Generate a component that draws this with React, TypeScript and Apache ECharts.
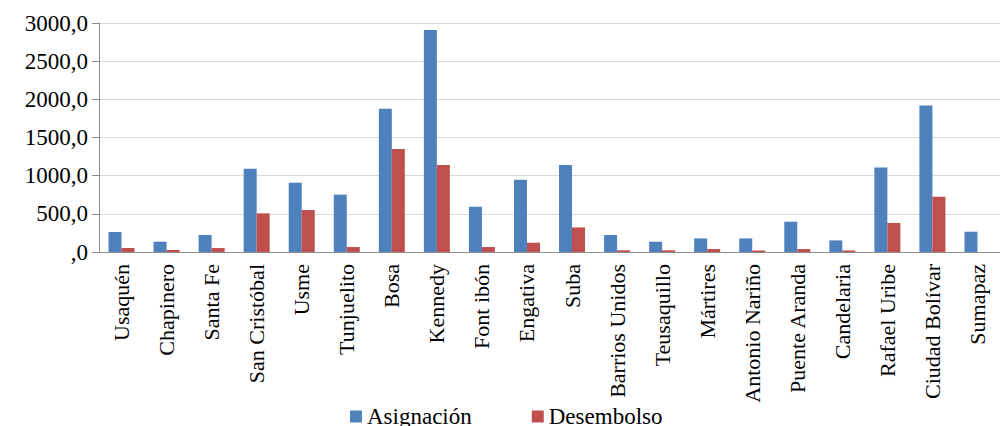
import React, { useEffect, useRef } from "react";
import * as echarts from "echarts";

const categories = [
  "Usaquén", "Chapinero", "Santa Fe", "San Cristóbal", "Usme", "Tunjuelito", "Bosa",
  "Kennedy", "Font ibón", "Engativa", "Suba", "Barrios Unidos", "Teusaquillo", "Mártires",
  "Antonio Nariño", "Puente Aranda", "Candelaria", "Rafael Uribe", "Ciudad Bolívar", "Sumapaz",
];
const asignacion = [262, 135, 223, 1091, 908, 751, 1877, 2908, 593, 947, 1140, 223, 135, 178, 178, 397, 152, 1108, 1920, 266];
const desembolso = [52, 26, 52, 506, 550, 65, 1349, 1140, 65, 122, 322, 22, 22, 39, 20, 39, 20, 380, 724, 0];
const seriesNames = ["Asignación", "Desembolso"];
const yTicks = { min: 0, max: 3000, interval: 500 };

const FONT = "Liberation Serif";

export default function App() {
  const ref = useRef<HTMLDivElement>(null);
  useEffect(() => {
    document.body.style.margin = "0";
    const chart = echarts.init(ref.current!, null, { renderer: "svg" });
    chart.setOption({
      animation: false,
      backgroundColor: "#ffffff",
      grid: { left: 99, top: 23, width: 912, height: 229, containLabel: false },
      legend: {
        data: seriesNames,
        left: 345,
        top: 400,
        icon: "rect",
        itemWidth: 12,
        itemHeight: 12,
        itemGap: 60,
        textStyle: { fontFamily: FONT, fontSize: 23, color: "#000" },
      },
      xAxis: {
        type: "category",
        data: categories,
        axisLine: { show: true, lineStyle: { color: "#8c8c8c", width: 1 } },
        axisTick: { show: false },
        axisLabel: {
          rotate: 90,
          interval: 0,
          margin: 12,
          fontFamily: FONT,
          fontSize: 22,
          color: "#000",
        },
      },
      yAxis: {
        type: "value",
        min: yTicks.min,
        max: yTicks.max,
        interval: yTicks.interval,
        axisLine: { show: true, lineStyle: { color: "#8c8c8c", width: 1 } },
        axisTick: { show: true, length: 7, lineStyle: { color: "#8c8c8c" } },
        splitLine: { show: true, lineStyle: { color: "#d9d9d9", width: 1 } },
        axisLabel: {
          margin: 11,
          fontFamily: FONT,
          fontSize: 23,
          color: "#000",
          formatter: (v: number) => (v === 0 ? ",0" : `${v},0`),
        },
      },
      series: [
        {
          name: seriesNames[0],
          type: "bar",
          data: asignacion,
          barWidth: 13,
          barGap: "0%",
          itemStyle: { color: "#4F81BD" },
        },
        {
          name: seriesNames[1],
          type: "bar",
          data: desembolso,
          barWidth: 13,
          itemStyle: { color: "#C0504D" },
        },
      ],
    });
    return () => chart.dispose();
  }, []);
  return <div ref={ref} style={{ width: 1000, height: 426 }} />;
}
